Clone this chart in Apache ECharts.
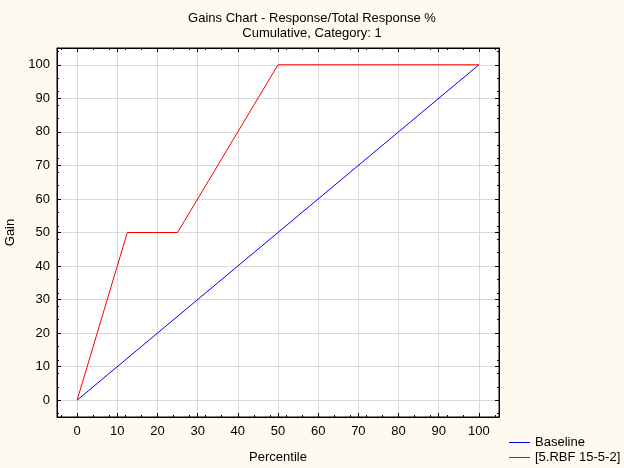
<!DOCTYPE html>
<html>
<head>
<meta charset="utf-8">
<script src="https://cdn.jsdelivr.net/npm/echarts@6/dist/echarts.min.js"></script>
<style>
  html, body { margin: 0; padding: 0; background: #fffaf0; }
  #main { width: 624px; height: 468px; }
</style>
</head>
<body>
<div id="main"></div>
<script>
// data
var tickValues = [0, 10, 20, 30, 40, 50, 60, 70, 80, 90, 100];
var baselineX = [0, 100];
var baselineGain = [0, 100];
var modelX = [0, 12.5, 25, 50, 100];
var modelGain = [0, 50, 50, 100, 100];
var seriesNames = ["Baseline", "[5.RBF 15-5-2]"];

function pairs(xs, ys) {
  return xs.map(function (x, i) { return [x, ys[i]]; });
}

var font = "Liberation Sans, Arial, sans-serif";

function valueAxis(pos, showLabel, name) {
  return {
    type: "value",
    position: pos,
    min: -5,
    max: 105,
    name: name,
    nameLocation: "middle",
    nameGap: pos === "left" ? 33 : 34,
    nameTextStyle: { color: "#000", fontSize: 13, fontFamily: font },
    axisLine: { show: true, onZero: false, lineStyle: { color: "#000", width: 1 } },
    axisTick: { show: true, inside: true, length: 4, customValues: tickValues, lineStyle: { color: "#000" } },
    minorTick: { show: true, splitNumber: 5, length: 2, lineStyle: { color: "#000" } },
    axisLabel: { show: showLabel, customValues: tickValues, color: "#000", fontSize: 13, fontFamily: font, margin: pos === "left" ? 7 : 8 },
    splitLine: { show: showLabel, lineStyle: { color: "#d9d9d9", width: 1 } }
  };
}

var myChart = echarts.init(document.getElementById("main"));

var option = {
  backgroundColor: "#fffaf0",
  animation: false,
  title: {
    text: "Gains Chart - Response/Total Response %",
    subtext: "Cumulative, Category: 1",
    left: "center",
    top: 7,
    itemGap: 2,
    textStyle: { color: "#000", fontSize: 13, fontWeight: "normal", fontFamily: font },
    subtextStyle: { color: "#000", fontSize: 13, fontFamily: font }
  },
  grid: {
    left: 57, right: 125, top: 48, bottom: 51,
    outerBoundsMode: "none",
    show: true, backgroundColor: "#fff", borderColor: "#000", borderWidth: 1
  },
  xAxis: [valueAxis("bottom", true, "Percentile"), valueAxis("top", false)],
  yAxis: [valueAxis("left", true, "Gain"), valueAxis("right", false)],
  legend: {
    orient: "vertical",
    left: 509,
    bottom: 4,
    padding: 0,
    icon: "rect",
    itemWidth: 21,
    itemHeight: 1,
    itemGap: 2,
    textStyle: { color: "#000", fontSize: 13, fontFamily: font },
    data: seriesNames
  },
  series: [
    {
      name: seriesNames[0],
      type: "line",
      symbol: "none",
      color: "#0000ff",
      lineStyle: { width: 1, color: "#0000ff" },
      data: pairs(baselineX, baselineGain)
    },
    {
      name: seriesNames[1],
      type: "line",
      symbol: "none",
      color: "#ff0000",
      lineStyle: { width: 1, color: "#ff0000" },
      data: pairs(modelX, modelGain)
    }
  ]
};

myChart.setOption(option);
</script>
</body>
</html>
